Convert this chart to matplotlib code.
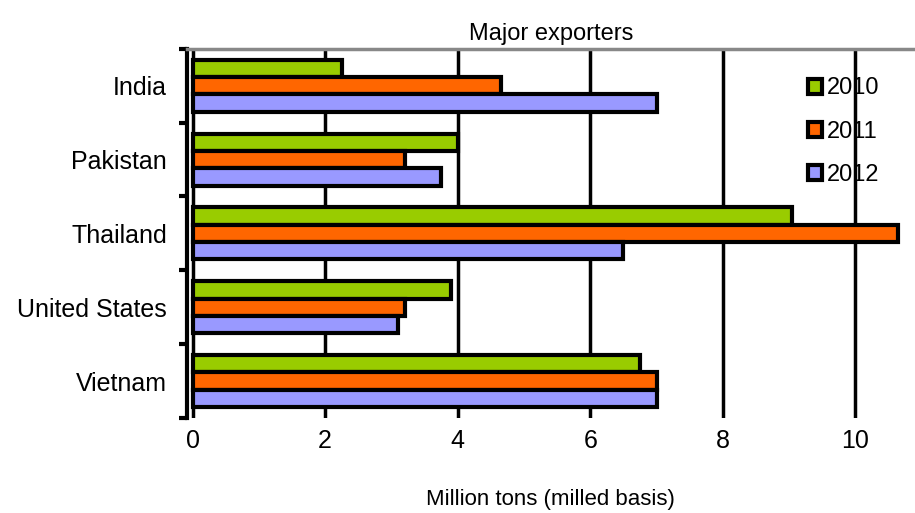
import matplotlib
matplotlib.use("Agg")
import matplotlib.pyplot as plt
import numpy as np

countries = ["India", "Pakistan", "Thailand", "United States", "Vietnam"]
years = ["2010", "2011", "2012"]
v2010 = [2.25, 4.0, 9.05, 3.9, 6.75]
v2011 = [4.65, 3.2, 10.65, 3.2, 7.0]
v2012 = [7.0, 3.75, 6.5, 3.1, 7.0]
colors = ["#99cc00", "#ff6600", "#9999ff"]

plt.rcParams['font.family'] = ['Liberation Sans', 'DejaVu Sans']
fig = plt.figure(figsize=(9.15, 5.13), dpi=100)
ax = fig.add_axes([0.204, 0.185, 0.796, 0.72])
y = np.arange(len(countries))
h = 0.235
for i, (vals, c, lab) in enumerate(zip([v2010, v2011, v2012], colors, years)):
    ax.barh(y + (i - 1) * h, vals, height=h, color=c, edgecolor="black", linewidth=3, label=lab, zorder=3)
ax.set_ylim(len(countries) - 0.5, -0.5)
ax.set_xlim(-0.09, 10.9)
ax.set_xticks([0, 2, 4, 6, 8, 10])
ax.set_yticks(y)
ax.set_yticklabels(countries, fontsize=18)
ax.set_yticks(np.arange(-0.5, len(countries)), minor=True)
ax.tick_params(axis='y', which='major', length=0, pad=14)
ax.tick_params(axis='y', which='minor', length=6, width=3, direction='out')
ax.tick_params(axis='x', labelsize=18, length=0, pad=8)
ax.grid(axis='x', color='black', linewidth=2.5, zorder=0)
for s in ['right', 'bottom']:
    ax.spines[s].set_visible(False)
ax.spines['top'].set_color('#888888')
ax.spines['top'].set_linewidth(2.5)
ax.spines['left'].set_linewidth(3)
ax.set_title("Major exporters", fontsize=17, pad=6)
ax.set_xlabel("Million tons (milled basis)", fontsize=16, labelpad=26)
leg = ax.legend(loc='upper right', bbox_to_anchor=(0.98, 0.98), frameon=False, fontsize=17,
                handlelength=0.6, handleheight=0.6, labelspacing=0.9, handletextpad=0.2)
fig.savefig("out.png")
